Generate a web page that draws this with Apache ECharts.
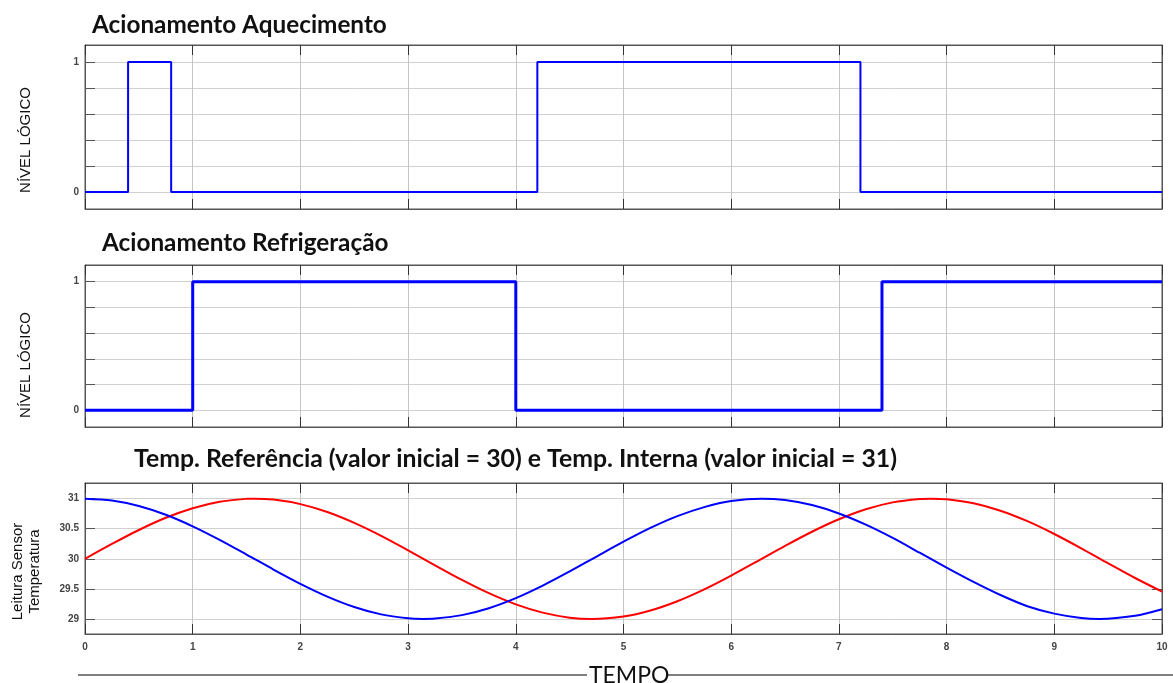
<!DOCTYPE html>
<html>
<head>
<meta charset="utf-8">
<title>Acionamento</title>
<script src="https://cdn.jsdelivr.net/npm/echarts@6/dist/echarts.min.js"></script>
<style>
  html, body { margin: 0; padding: 0; background: #fff; }
  #main { width: 1173px; height: 683px; }
</style>
</head>
<body>
<div id="main"></div>
<script>
// aquecimento (instantes de troca e nível lógico a partir de cada instante)
var heatT = [0, 0.4, 0.8, 4.2, 7.2, 10];
var heatV = [0, 1, 0, 1, 0, 0];
// refrigeração
var coolT = [0, 1, 4, 7.4, 10];
var coolV = [0, 1, 0, 1, 1];

var refT = [0, 0.25, 0.5, 0.75, 1, 1.25, 1.5, 1.57, 1.75, 2, 2.25, 2.5, 2.75, 3, 3.25, 3.5, 3.75,
  4, 4.25, 4.5, 4.71, 5, 5.25, 5.5, 5.75, 6, 6.25, 6.5, 6.75, 7, 7.25, 7.5, 7.75, 7.85,
  8, 8.25, 8.5, 8.75, 9, 9.25, 9.5, 9.75, 10];
var refV = [30.000, 30.247, 30.479, 30.682, 30.841, 30.949, 30.997, 31.000, 30.984, 30.909, 30.778,
  30.598, 30.382, 30.141, 29.892, 29.649, 29.428, 29.243, 29.105, 29.022, 29.000, 29.041, 29.141,
  29.295, 29.492, 29.721, 29.967, 30.215, 30.450, 30.657, 30.824, 30.938, 30.995, 31.000, 30.989,
  30.923, 30.799, 30.625, 30.412, 30.174, 29.925, 29.681, 29.456];

// temperatura interna (curva azul)
var intT = [0, 0.25, 0.5, 0.75, 1, 1.25, 1.5, 1.75, 2, 2.25, 2.5, 2.75, 3, 3.14, 3.25, 3.5, 3.75,
  4, 4.25, 4.5, 4.75, 5, 5.25, 5.5, 5.75, 6, 6.28, 6.5, 6.75, 7, 7.25, 7.5, 7.75,
  8, 8.25, 8.5, 8.75, 9, 9.25, 9.42, 9.75, 10];
var intV = [31.000, 30.969, 30.878, 30.732, 30.540, 30.315, 30.071, 29.822, 29.584, 29.372, 29.199,
  29.076, 29.010, 29.000, 29.006, 29.064, 29.179, 29.346, 29.554, 29.789, 30.038, 30.284, 30.513,
  30.709, 30.859, 30.960, 31.000, 30.977, 30.893, 30.754, 30.568, 30.347, 30.101, 29.854, 29.616,
  29.398, 29.212, 29.089, 29.016, 29.000, 29.052, 29.161];

var logicTicks = [0, 0.2, 0.4, 0.6, 0.8, 1];
var logicLabels = [0, 1];
var tempTicks = [29, 29.5, 30, 30.5, 31];

function pairs(xs, ys) {
  return xs.map(function (x, i) { return [x, ys[i]]; });
}

var chart = echarts.init(document.getElementById('main'));

var titleFont = {fontFamily: 'Lato', fontWeight: 'bold', fontSize: 24.3, color: '#111'};
var nameFont = {fontFamily: 'Liberation Sans', fontSize: 15, color: '#111'};
var tickFont = {fontFamily: 'Liberation Sans', fontWeight: 'bold', fontSize: 10, color: '#444'};
var boxColor = '#555';

var grids = [
  {left: 85, right: 11, top: 45, height: 164},
  {left: 85, right: 11, top: 265, height: 162},
  {left: 85, right: 11, top: 483, height: 151}
];

var xAxes = [], yAxes = [];
grids.forEach(function (g, i) {
  g.show = true;
  g.borderColor = boxColor;
  g.borderWidth = 1;
  g.containLabel = false;
  g.outerBoundsMode = 'none';
  // eixo x de baixo
  xAxes.push({
    type: 'value', gridIndex: i, min: 0, max: 10, interval: 1,
    axisLine: {onZero: false, lineStyle: {color: boxColor}},
    axisTick: {show: true, inside: true, length: 10, lineStyle: {color: '#333'}},
    axisLabel: i === 2 ? Object.assign({margin: 8}, tickFont) : {show: false},
    splitLine: {show: true, lineStyle: {color: '#c4c4c4'}}
  });
  // eixo x de cima, só para os traços
  xAxes.push({
    type: 'value', gridIndex: i, position: 'top', min: 0, max: 10, interval: 1,
    axisLine: {onZero: false, lineStyle: {color: boxColor}},
    axisTick: {show: true, inside: true, length: 10, lineStyle: {color: '#333'}},
    axisLabel: {show: false},
    splitLine: {show: false}
  });
});

function logicY(i, side) {
  return {
    type: 'value', gridIndex: i, position: side, min: -0.13, max: 1.13,
    name: side === 'left' ? 'NÍVEL LÓGICO' : '',
    nameLocation: 'middle', nameRotate: 90, nameGap: 52,
    nameTextStyle: Object.assign({padding: [0, i === 0 ? 26 : 38, 0, 0]}, nameFont),
    axisLine: {show: true, onZero: false, lineStyle: {color: boxColor}},
    axisTick: {show: true, inside: true, length: 10, customValues: logicTicks, lineStyle: {color: '#555'}},
    axisLabel: side === 'left' ? Object.assign({customValues: logicLabels, margin: 6}, tickFont) : {show: false},
    splitLine: {show: side === 'left', lineStyle: {color: '#d0d0d0'}}
  };
}
yAxes.push(logicY(0, 'left'), logicY(0, 'right'), logicY(1, 'left'), logicY(1, 'right'));

function tempY(side) {
  return {
    type: 'value', gridIndex: 2, position: side, min: 28.75, max: 31.26,
    name: side === 'left' ? 'Leitura Sensor\nTemperatura' : '',
    nameLocation: 'middle', nameRotate: 90, nameGap: 42,
    nameTextStyle: Object.assign({}, nameFont, {padding: [0, 26, 0, 0], lineHeight: 17, fontSize: 15}),
    axisLine: {show: true, onZero: false, lineStyle: {color: boxColor}},
    axisTick: {show: true, inside: true, length: 10, customValues: tempTicks, lineStyle: {color: '#555'}},
    axisLabel: side === 'left' ? Object.assign({customValues: tempTicks, margin: 6}, tickFont) : {show: false},
    splitLine: {show: side === 'left', lineStyle: {color: '#d0d0d0'}}
  };
}
yAxes.push(tempY('left'), tempY('right'));

chart.setOption({
  animation: false,
  backgroundColor: '#fff',
  title: [
    {text: 'Acionamento Aquecimento', left: 92, top: 13, padding: 0, textStyle: titleFont},
    {text: 'Acionamento Refrigeração', left: 102, top: 231, padding: 0, textStyle: titleFont},
    {text: 'Temp. Referência (valor inicial = 30) e Temp. Interna (valor inicial = 31)',
      left: 134, top: 447, padding: 0, textStyle: Object.assign({}, titleFont, {fontSize: 24.8})}
  ],
  grid: grids,
  xAxis: xAxes,
  yAxis: yAxes,
  series: [
    {type: 'line', xAxisIndex: 0, yAxisIndex: 0, step: 'end', showSymbol: false,
      data: pairs(heatT, heatV), lineStyle: {color: '#0000ff', width: 2}, itemStyle: {color: '#0000ff'}},
    {type: 'line', xAxisIndex: 2, yAxisIndex: 2, step: 'end', showSymbol: false,
      data: pairs(coolT, coolV), lineStyle: {color: '#0000ff', width: 3}, itemStyle: {color: '#0000ff'}},
    {type: 'line', xAxisIndex: 4, yAxisIndex: 4, smooth: 0.3, showSymbol: false,
      data: pairs(refT, refV), lineStyle: {color: '#ff0000', width: 2}, itemStyle: {color: '#ff0000'}},
    {type: 'line', xAxisIndex: 4, yAxisIndex: 4, smooth: 0.3, showSymbol: false,
      data: pairs(intT, intV), lineStyle: {color: '#0000ff', width: 2}, itemStyle: {color: '#0000ff'}}
  ],
  graphic: [
    {type: 'line', shape: {x1: 78, y1: 675, x2: 587, y2: 675}, style: {stroke: '#000', lineWidth: 1}},
    {type: 'text', left: 589, top: 664, style: {text: 'TEMPO', fontFamily: 'Lato', fontSize: 23, fill: '#111'}},
    {type: 'line', shape: {x1: 668, y1: 675, x2: 1173, y2: 675}, style: {stroke: '#000', lineWidth: 1}}
  ]
});
window.addEventListener('resize', chart.resize, false);
</script>
</body>
</html>
